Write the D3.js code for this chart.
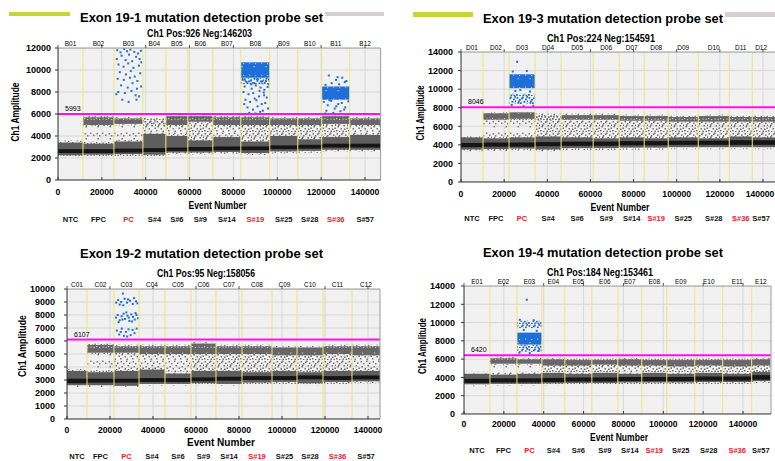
<!DOCTYPE html>
<html>
<head>
<meta charset="utf-8">
<script src="https://cdn.jsdelivr.net/npm/d3@7"></script>
<style>
body { margin: 0; background: #fff; }
svg text { font-family: "Liberation Sans", Arial, sans-serif; }
</style>
</head>
<body>
<svg id="chart" width="775" height="461"></svg>
<script>
// shared labels
const samples = ["NTC", "FPC", "PC", "S#4", "S#6", "S#9", "S#14", "S#19", "S#25", "S#28", "S#36", "S#57"];
const redSamples = ["PC", "S#19", "S#36"];
const xTicks = [0, 20000, 40000, 60000, 80000, 100000, 120000, 140000];

// ---- Exon 19-1 (wells B) ----
const titleB = "Exon 19-1 mutation detection probe set";
const subB = "Ch1 Pos:926 Neg:146203";
const thrB = 5993;
const wellsB = ["B01", "B02", "B03", "B04", "B05", "B06", "B07", "B08", "B09", "B10", "B11", "B12"];
const edgesB = [0, 11390, 25510, 38720, 49200, 59220, 70620, 83370, 96580, 109340, 120270, 133030, 147129];
const coreB = [[2450, 2800], [2450, 2800], [2500, 2850], [2550, 2900], [2650, 2950], [2650, 3000], [2700, 3050], [2700, 3050], [2800, 3150], [2850, 3200], [2950, 3300], [2950, 3300]];
const spreadB = [[2250, 3400], [2300, 3300], [2350, 3500], [2300, 4200], [2500, 4000], [2500, 3600], [2550, 3900], [2450, 3500], [2600, 4000], [2650, 3700], [2750, 3900], [2750, 4100]];
const rainB = [[0, 0, 0], [3300, 5000, 1], [3500, 5100, 1], [4200, 5000, 2], [4000, 5000, 2], [3600, 5300, 3], [3900, 5000, 2], [3500, 5000, 3], [4000, 5000, 3], [3700, 5000, 3], [3900, 5100, 3], [4100, 5000, 2]];
const upperB = [null, [5000, 5700, 2], [5100, 5600, 2], [5000, 5500, 1], [5000, 5800, 2], [5300, 5800, 2], [5000, 5700, 2], [5000, 5700, 2], [5000, 5600, 2], [5000, 5600, 2], [5100, 5800, 2], [5000, 5600, 2]];
const denseB = [[7, 9300, 10700, 2], [7, 8700, 9300, 1], [10, 7300, 8500, 2]];
const dotsB = [
  [27000, 11800], [28500, 11600], [30200, 11900], [31500, 11700], [33000, 11850], [34800, 11650], [36500, 11500], [37800, 11750],
  [29000, 11300], [32400, 11400], [35600, 11200], [26800, 11000], [30800, 10900], [33800, 10800], [37200, 11000], [27600, 10500],
  [29900, 10300], [32000, 10600], [34400, 10200], [36900, 10400], [38000, 10700], [28200, 9800], [31000, 9600], [33200, 9900],
  [35000, 9400], [37500, 9700], [27200, 9200], [30000, 9100], [32800, 9300], [36200, 9000], [28800, 8600], [31800, 8400],
  [34000, 8800], [36000, 8300], [37900, 8500], [27500, 8000], [30500, 7900], [33500, 8100], [35400, 7700], [37000, 7600],
  [29300, 7300], [32200, 7100], [35800, 7300], [26600, 7800],
  [84200, 9100], [86000, 8900], [87800, 9050], [89500, 8800], [91200, 9150], [93000, 8950], [94800, 9000], [96000, 8700],
  [85100, 8500], [88300, 8300], [90200, 8600], [92400, 8400], [94100, 8200], [95600, 8450], [84600, 8000], [86900, 7800],
  [89000, 7900], [91700, 7600], [93800, 7950], [95200, 7500], [85500, 7300], [87600, 7100], [90500, 7250], [92900, 6900],
  [94500, 7000], [86400, 6600], [88900, 6400], [91000, 6700], [93400, 6300], [95800, 6500], [87200, 6100], [90000, 6050],
  [92200, 6200], [84900, 6900], [89700, 7400], [94000, 7700], [88100, 8700], [91900, 8100],
  [123500, 9500], [126800, 9100], [129600, 9300], [131500, 9000], [124800, 8800], [128200, 8700], [130800, 8900], [122000, 8650],
  [127500, 9350], [121200, 7100], [123000, 6800], [124600, 7200], [126200, 6500], [127800, 6900], [129400, 7000], [131000, 6600],
  [132400, 7150], [122400, 6300], [125500, 6100], [128800, 6250], [130500, 6400], [126900, 6700], [123800, 7250], [121800, 6050]
];

// ---- Exon 19-3 (wells D) ----
const titleD = "Exon 19-3 mutation detection probe set";
const subD = "Ch1 Pos:224 Neg:154591";
const thrD = 8046;
const wellsD = ["D01", "D02", "D03", "D04", "D05", "D06", "D07", "D08", "D09", "D10", "D11", "D12"];
const edgesD = [0, 10210, 22270, 34340, 46400, 61250, 73320, 84920, 96060, 109980, 124360, 135030, 154815];
const coreD = [[3750, 4200], [3800, 4250], [3800, 4250], [3850, 4300], [3900, 4350], [3900, 4350], [3950, 4400], [3950, 4400], [4000, 4450], [4000, 4450], [4000, 4500], [4000, 4500]];
const spreadD = [[3500, 4800], [3550, 4700], [3600, 4800], [3500, 4900], [3650, 4800], [3650, 4700], [3700, 4800], [3700, 4700], [3750, 4800], [3750, 4700], [3750, 4900], [3750, 4800]];
const rainD = [[0, 0, 0], [4700, 6700, 1], [4800, 6800, 1], [4900, 6600, 3], [4800, 6700, 3], [4700, 6700, 3], [4800, 6600, 3], [4700, 6600, 3], [4800, 6500, 3], [4700, 6500, 3], [4900, 6500, 3], [4800, 6500, 3]];
const upperD = [null, [6700, 7400, 2], [6800, 7500, 2], [6600, 7200, 1], [6700, 7200, 2], [6700, 7200, 2], [6600, 7100, 2], [6600, 7100, 2], [6500, 7000, 2], [6500, 7100, 2], [6500, 7000, 2], [6500, 7000, 2]];
const denseD = [[2, 10100, 11600, 2], [2, 8400, 9500, 1]];
const dotsD = [[26000, 12950], [24000, 11900], [30500, 11950], [27500, 9900], [32000, 9750], [23500, 8300], [33500, 8200], [29000, 8150], [25200, 9800]];

// ---- Exon 19-2 (wells C) ----
const titleC = "Exon 19-2 mutation detection probe set";
const subC = "Ch1 Pos:95 Neg:158056";
const thrC = 6107;
const wellsC = ["C01", "C02", "C03", "C04", "C05", "C06", "C07", "C08", "C09", "C10", "C11", "C12"];
const edgesC = [0, 9300, 21860, 33490, 45580, 57670, 69300, 81400, 95350, 106980, 119070, 132560, 158151];
const coreC = [[2750, 3100], [2800, 3100], [2800, 3100], [2850, 3150], [2850, 3150], [2900, 3200], [2950, 3250], [3000, 3300], [3000, 3300], [3050, 3350], [3000, 3300], [3050, 3350]];
const spreadC = [[2600, 3700], [2600, 3600], [2550, 3700], [2700, 3800], [2700, 3500], [2750, 3700], [2700, 3700], [2800, 3600], [2850, 3700], [2750, 3600], [2850, 3700], [2900, 3700]];
const rainC = [[0, 0, 0], [3600, 5100, 1], [3700, 5100, 2], [3800, 5000, 2], [3500, 5000, 2], [3700, 5000, 3], [3700, 5000, 3], [3600, 5000, 3], [3700, 4900, 3], [3600, 4900, 3], [3700, 5000, 3], [3700, 4900, 2]];
const upperC = [null, [5100, 5700, 2], [5100, 5600, 2], [5000, 5600, 2], [5000, 5600, 2], [5000, 5800, 2], [5000, 5600, 2], [5000, 5600, 2], [4900, 5500, 2], [4900, 5500, 2], [5000, 5600, 2], [4900, 5600, 2]];
const denseC = [];
const dotsC = [
  [26000, 9650],
  [23800, 9150], [25200, 9000], [26800, 9250], [27900, 8950], [29300, 9100], [30600, 8850], [32100, 9050], [24500, 8800],
  [28400, 9200], [31200, 9300], [26200, 8750], [32800, 8900], [22900, 8950],
  [22800, 7800], [23600, 8000], [24500, 7600], [25400, 7900], [26300, 8100], [27000, 7700], [28100, 7950], [29000, 7550],
  [29900, 8050], [30700, 7850], [31500, 7650], [32300, 8000], [33000, 7750], [24000, 7450], [27600, 8200], [30200, 7500],
  [25800, 7650], [28700, 7800], [31900, 8150],
  [23200, 6800], [24300, 6500], [25500, 6950], [26500, 6400], [27400, 6700], [28600, 6900], [29600, 6450], [30500, 6850],
  [31400, 6600], [32400, 6950], [28000, 6350], [25000, 6700]
];

// ---- Exon 19-4 (wells E) ----
const titleE = "Exon 19-4 mutation detection probe set";
const subE = "Ch1 Pos:184 Neg:153461";
const thrE = 6420;
const wellsE = ["E01", "E02", "E03", "E04", "E05", "E06", "E07", "E08", "E09", "E10", "E11", "E12"];
const edgesE = [0, 13030, 26570, 39100, 50630, 64160, 77190, 89220, 101750, 115790, 129820, 144360, 153645];
const coreE = [[3400, 3850], [3450, 3900], [3450, 3900], [3500, 3950], [3550, 4000], [3550, 4000], [3600, 4050], [3600, 4050], [3600, 4050], [3650, 4100], [3650, 4100], [3750, 4250]];
const spreadE = [[3250, 4400], [3300, 4300], [3300, 4400], [3350, 4500], [3400, 4400], [3400, 4500], [3450, 4400], [3450, 4500], [3450, 4400], [3500, 4500], [3500, 4400], [3600, 4600]];
const rainE = [[0, 0, 0], [4300, 5500, 1], [4400, 5500, 1], [4500, 5300, 3], [4400, 5300, 3], [4500, 5400, 3], [4400, 5300, 2], [4500, 5300, 3], [4400, 5200, 3], [4500, 5300, 3], [4400, 5200, 3], [4600, 5300, 3]];
const upperE = [null, [5500, 6100, 2], [5500, 6000, 2], [5300, 6000, 2], [5300, 5900, 2], [5400, 5900, 2], [5300, 6000, 2], [5300, 5900, 2], [5200, 5900, 2], [5300, 5900, 2], [5200, 5900, 2], [5300, 6000, 2]];
const denseE = [[2, 9400, 10200, 1], [2, 7600, 8900, 2], [2, 6800, 7600, 1]];
const dotsE = [[31500, 12500], [28000, 10300], [35000, 10250], [30000, 9200], [36500, 9100], [27800, 6700], [33000, 6650], [37500, 6900]];

const panels = [
  { id: "B", title: titleB, sub: subB, thr: thrB, wells: wellsB, edges: edgesB, core: coreB, spread: spreadB, rain: rainB, upper: upperB, dense: denseB, dots: dotsB, yMax: 12000, yStep: 2000,
    L: { x0: 58, x140: 365, right: 380.6, top: 48, bottom: 180, titleX: 201.5, titleY: 22, titleW: 243, subX: 199.5, subY: 36.5, subW: 105,
         wellY: 45.5, tickY: 195, evX: 217.5, evY: 208.5, evW: 58, sampY: 221.5, ampX: 19, ampY: 112, ampW: 59, yLabX: 51, bars: [[9, 70], [325, 384]], barY: 12, barH: 4 } },
  { id: "D", title: titleD, sub: subD, thr: thrD, wells: wellsD, edges: edgesD, core: coreD, spread: spreadD, rain: rainD, upper: upperD, dense: denseD, dots: dotsD, yMax: 14000, yStep: 2000,
    L: { x0: 461, x140: 763, right: 795, top: 52, bottom: 182, titleX: 603, titleY: 22.5, titleW: 240, subX: 601, subY: 41.5, subW: 108,
         wellY: 49.5, tickY: 197, evX: 620, evY: 211, evW: 59, sampY: 221, ampX: 424, ampY: 113, ampW: 55, yLabX: 453, bars: [[413, 473], [725, 775]], barY: 12, barH: 5 } },
  { id: "C", title: titleC, sub: subC, thr: thrC, wells: wellsC, edges: edgesC, core: coreC, spread: spreadC, rain: rainC, upper: upperC, dense: denseC, dots: dotsC, yMax: 10000, yStep: 1000,
    L: { x0: 67, x140: 368, right: 380, top: 289, bottom: 419, titleX: 201.5, titleY: 258, titleW: 243, subX: 206, subY: 277, subW: 98,
         wellY: 287, tickY: 433, evX: 221, evY: 446, evW: 68, sampY: 459, ampX: 26, ampY: 346, ampW: 62, yLabX: 55, bars: [], barY: 0, barH: 0 } },
  { id: "E", title: titleE, sub: subE, thr: thrE, wells: wellsE, edges: edgesE, core: coreE, spread: spreadE, rain: rainE, upper: upperE, dense: denseE, dots: dotsE, yMax: 14000, yStep: 2000,
    L: { x0: 464, x140: 743, right: 771, top: 286, bottom: 414, titleX: 603, titleY: 257, titleW: 240, subX: 600, subY: 275.5, subW: 106,
         wellY: 284, tickY: 427, evX: 619, evY: 441, evW: 58, sampY: 453, ampX: 426, ampY: 346, ampW: 56, yLabX: 455, bars: [], barY: 0, barH: 0 } }
];

const svg = d3.select("#chart");
const defs = svg.append("defs");

// speckle positions inside a 12px tile, used to texture the droplet clouds
const speck = [[0.5, 1], [6, 0.5], [3, 3], [9, 2.5], [1.5, 6], [7.5, 5], [4.5, 8], [10.5, 7.5], [0, 10], [6.5, 10.5],
  [3, 11], [9.5, 10.8], [2, 4.5], [8, 8.5], [5, 1.5], [11, 4.5], [4, 6.3], [10.2, 0], [1, 8], [7, 2.8],
  [5.5, 4], [11.2, 9.5], [2.5, 9.5], [8.5, 11]];

function pattern(id, bg, n, s, color, from) {
  const pt = defs.append("pattern").attr("id", id)
    .attr("patternUnits", "userSpaceOnUse").attr("width", 12).attr("height", 12);
  if (bg) pt.append("rect").attr("width", 12).attr("height", 12).attr("fill", bg);
  speck.slice(from || 0, (from || 0) + n).forEach(([dx, dy]) => pt.append("rect")
    .attr("x", dx).attr("y", dy).attr("width", s).attr("height", s).attr("fill", color));
}
pattern("rain1", null, 5, 1.5, "#7c7c7c");
pattern("rain2", null, 10, 1.5, "#787878");
pattern("rain3", null, 16, 1.5, "#747474");
pattern("fringe", null, 12, 1.4, "#6a6a6a", 4);
pattern("upper2", "#676767", 5, 1.2, "#c4c4c4", 8);
pattern("upper1", null, 20, 1.6, "#6e6e6e");
pattern("blue2", "#1e6fd9", 3, 1.2, "#9cc0ee", 2);
pattern("blue1", null, 18, 1.8, "#1e6fd9");

function drawPanel(p) {
  const L = p.L;
  const x = d3.scaleLinear().domain([0, 140000]).range([L.x0, L.x140]);
  const y = d3.scaleLinear().domain([0, p.yMax]).range([L.bottom, L.top]);
  const yTicks = d3.range(0, p.yMax + 1, p.yStep);
  const visRight = Math.min(L.right, 770);
  const g = svg.append("g");

  // header bars and titles
  g.selectAll(".bar").data(L.bars).join("rect")
    .attr("x", d => d[0]).attr("y", L.barY).attr("width", d => d[1] - d[0]).attr("height", L.barH)
    .attr("fill", (d, i) => i === 0 ? "#c8d43c" : "#dacfcf");
  g.append("text").attr("x", L.titleX).attr("y", L.titleY).attr("text-anchor", "middle")
    .attr("font-family", "'Noto Sans', sans-serif").attr("font-weight", "bold").attr("font-size", 13.5)
    .attr("textLength", L.titleW).attr("lengthAdjust", "spacingAndGlyphs").text(p.title);
  g.append("text").attr("x", L.subX).attr("y", L.subY).attr("text-anchor", "middle")
    .attr("font-weight", "bold").attr("font-size", 10)
    .attr("textLength", L.subW).attr("lengthAdjust", "spacingAndGlyphs").text(p.sub);

  const clipId = "clip" + p.id;
  defs.append("clipPath").attr("id", clipId).append("rect")
    .attr("x", L.x0).attr("y", L.top).attr("width", L.right - L.x0).attr("height", L.bottom - L.top);

  g.append("rect").attr("x", L.x0).attr("y", L.top).attr("width", L.right - L.x0).attr("height", L.bottom - L.top)
    .attr("fill", "#f1f1f1");

  const plot = g.append("g").attr("clip-path", `url(#${clipId})`);
  plot.selectAll(".vg").data(xTicks).join("line")
    .attr("x1", d => x(d)).attr("x2", d => x(d)).attr("y1", L.top).attr("y2", L.bottom)
    .attr("stroke", "#d2d2d2").attr("stroke-width", 0.8);
  plot.selectAll(".hg").data(yTicks).join("line")
    .attr("x1", L.x0).attr("x2", L.right).attr("y1", d => y(d)).attr("y2", d => y(d))
    .attr("stroke", "#d2d2d2").attr("stroke-width", 0.8);

  const wells = p.wells.map((w, i) => ({ i, name: w, e0: p.edges[i], e1: p.edges[i + 1] }));
  const wellMid = d => (x(d.e0) + Math.min(x(d.e1), visRight)) / 2;

  function band(list, fill, pad) {
    plot.append("g").selectAll("rect").data(list).join("rect")
      .attr("x", d => x(d.e0)).attr("width", d => x(d.e1) - x(d.e0))
      .attr("y", d => y(d.hi) - pad).attr("height", d => y(d.lo) - y(d.hi) + 2 * pad)
      .attr("fill", fill);
  }
  const pick = (arr) => wells.filter(w => arr[w.i] && arr[w.i][1] > arr[w.i][0])
    .map(w => ({ e0: w.e0, e1: w.e1, lo: arr[w.i][0], hi: arr[w.i][1], lvl: arr[w.i][2] }));

  const rain = pick(p.rain);
  [1, 2, 3].forEach(l => band(rain.filter(d => d.lvl === l), `url(#rain${l})`, 0));
  const spread = pick(p.spread);
  band(spread, "url(#fringe)", 2);
  band(spread, "#5e5e5e", 0);
  band(pick(p.core), "#151515", 0);
  const upper = pick(p.upper);
  band(upper, "url(#fringe)", 1.5);
  band(upper.filter(d => d.lvl === 2), "url(#upper2)", 0);
  band(upper.filter(d => d.lvl === 1), "url(#upper1)", 0);

  const dense = p.dense.map(([wi, lo, hi, lvl]) => ({ e0: p.edges[wi], e1: p.edges[wi + 1], lo, hi, lvl }));
  band(dense.filter(d => d.lvl === 2), "url(#blue2)", 0);
  band(dense.filter(d => d.lvl === 1), "url(#blue1)", 0);
  plot.append("g").selectAll("rect").data(p.dots).join("rect")
    .attr("x", d => x(d[0]) - 1).attr("y", d => y(d[1]) - 1).attr("width", 2).attr("height", 2)
    .attr("fill", "#1e6fd9");

  // well boundaries
  plot.selectAll(".wb").data(p.edges.slice(1, -1)).join("line")
    .attr("x1", d => x(d)).attr("x2", d => x(d)).attr("y1", L.top).attr("y2", L.bottom)
    .attr("stroke", "#ece77a").attr("stroke-width", 1);

  // threshold
  plot.append("line").attr("x1", L.x0).attr("x2", L.right).attr("y1", y(p.thr)).attr("y2", y(p.thr))
    .attr("stroke", "#ff10f0").attr("stroke-width", 2);
  g.append("text").attr("x", L.x0 + 7).attr("y", y(p.thr) - 3).attr("font-size", 7).text(p.thr);

  // frame
  g.append("line").attr("x1", L.x0).attr("x2", L.right).attr("y1", L.top).attr("y2", L.top).attr("stroke", "#9a9a9a");
  g.append("line").attr("x1", L.right).attr("x2", L.right).attr("y1", L.top).attr("y2", L.bottom).attr("stroke", "#9a9a9a");
  g.append("line").attr("x1", L.x0).attr("x2", L.x0).attr("y1", L.top).attr("y2", L.bottom).attr("stroke", "#333");
  g.append("line").attr("x1", L.x0).attr("x2", L.right).attr("y1", L.bottom).attr("y2", L.bottom).attr("stroke", "#333");

  // ticks and labels
  g.selectAll(".yt").data(yTicks).join("line")
    .attr("x1", L.x0 - 3).attr("x2", L.x0).attr("y1", d => y(d)).attr("y2", d => y(d)).attr("stroke", "#333");
  g.selectAll(".yl").data(yTicks).join("text")
    .attr("x", L.yLabX).attr("y", d => y(d) + 3.3).attr("text-anchor", "end")
    .attr("font-weight", "bold").attr("font-size", 9).text(d => d);
  g.selectAll(".xt").data(xTicks).join("line")
    .attr("x1", d => x(d)).attr("x2", d => x(d)).attr("y1", L.bottom - 3).attr("y2", L.bottom).attr("stroke", "#333");
  g.selectAll(".xtt").data(xTicks).join("line")
    .attr("x1", d => x(d)).attr("x2", d => x(d)).attr("y1", L.top - 3).attr("y2", L.top).attr("stroke", "#555");
  g.selectAll(".xl").data(xTicks).join("text")
    .attr("x", d => Math.min(x(d), visRight - 10)).attr("y", L.tickY).attr("text-anchor", "middle")
    .attr("font-weight", "bold").attr("font-size", 8.6).text(d => d);

  g.selectAll(".wl").data(wells).join("text")
    .attr("x", wellMid).attr("y", L.wellY).attr("text-anchor", "middle")
    .attr("font-size", 6.5).text(d => d.name);

  g.append("text").attr("x", L.evX).attr("y", L.evY).attr("text-anchor", "middle")
    .attr("font-weight", "bold").attr("font-size", 10)
    .attr("textLength", L.evW).attr("lengthAdjust", "spacingAndGlyphs").text("Event Number");
  g.append("text").attr("transform", `translate(${L.ampX},${L.ampY}) rotate(-90)`).attr("text-anchor", "middle")
    .attr("font-weight", "bold").attr("font-size", 10)
    .attr("textLength", L.ampW).attr("lengthAdjust", "spacingAndGlyphs").text("Ch1 Amplitude");

  g.selectAll(".sl").data(wells).join("text")
    .attr("x", wellMid).attr("y", L.sampY).attr("text-anchor", "middle")
    .attr("font-weight", "bold").attr("font-size", 7.5)
    .attr("fill", d => redSamples.includes(samples[d.i]) ? "#e8202a" : "#111")
    .text(d => samples[d.i]);
}

panels.forEach(drawPanel);
</script>
</body>
</html>
